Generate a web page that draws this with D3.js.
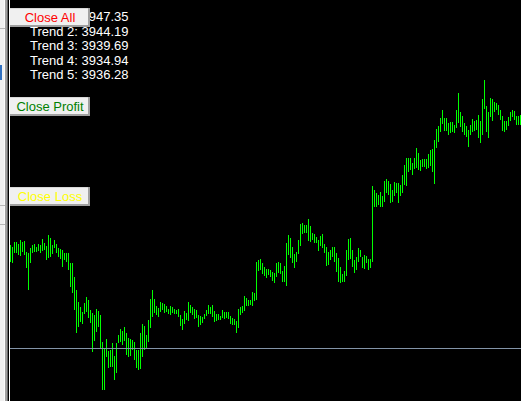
<!DOCTYPE html>
<html>
<head>
<meta charset="utf-8">
<script src="https://cdn.jsdelivr.net/npm/d3@7/dist/d3.min.js"></script>
<style>
  html, body { margin: 0; padding: 0; background: #000; }
  svg { display: block; }
</style>
</head>
<body>
<script>
// ---- data (price bars: high / low per bar, oldest first) ----
const high = [
3935.50,3935.33,3935.77,3935.83,3935.60,3936.00,3935.83,3935.93,3934.83,3934.67,
3935.17,3935.50,3935.60,3935.33,3935.60,3935.50,3936.07,3935.73,3935.40,3936.50,
3936.17,3935.50,3936.00,3935.60,3935.17,3935.07,3935.00,3934.73,3934.67,3934.67,
3933.67,3933.67,3932.27,3931.00,3929.83,3929.27,3928.83,3929.67,3930.27,3930.00,
3929.00,3928.67,3928.50,3929.07,3928.93,3928.50,3925.83,3925.17,3926.07,3924.93,
3925.00,3925.67,3924.40,3925.67,3926.50,3927.10,3926.90,3927.27,3926.67,3926.17,
3926.07,3926.00,3925.83,3925.00,3925.00,3926.67,3927.60,3927.40,3926.50,3928.00,
3930.07,3931.00,3930.13,3929.40,3929.17,3929.80,3929.73,3929.60,3929.40,3929.07,
3929.40,3929.27,3929.07,3929.00,3929.10,3928.50,3928.10,3928.90,3928.73,3929.83,
3929.50,3929.27,3929.07,3929.00,3928.50,3928.40,3928.33,3928.60,3929.00,3929.50,
3929.33,3929.50,3928.90,3928.57,3928.60,3928.40,3929.00,3928.80,3928.80,3928.80,
3928.40,3928.20,3928.10,3927.90,3929.10,3929.27,3929.40,3930.40,3930.17,3930.00,
3930.00,3930.77,3930.67,3933.83,3934.00,3934.10,3933.67,3933.27,3933.10,3933.10,
3933.00,3932.83,3932.73,3933.67,3933.83,3933.67,3932.90,3933.40,3935.73,3936.50,
3936.17,3935.33,3934.60,3934.83,3936.00,3937.60,3937.73,3937.50,3937.50,3938.10,
3937.40,3936.73,3936.60,3936.33,3936.00,3936.40,3936.60,3935.60,3935.33,3934.83,
3935.00,3935.27,3935.33,3934.67,3934.17,3933.33,3932.60,3932.93,3935.00,3936.07,
3936.17,3935.00,3934.00,3934.33,3935.17,3935.00,3934.27,3934.50,3934.40,3934.07,
3934.07,3941.40,3941.00,3940.67,3940.50,3940.77,3940.40,3941.90,3942.10,3941.90,
3941.60,3941.00,3941.80,3941.73,3941.67,3941.50,3942.50,3943.50,3944.23,3944.23,
3944.23,3943.73,3944.23,3945.17,3944.73,3944.00,3944.07,3944.10,3944.10,3944.60,
3945.00,3945.10,3946.00,3947.10,3947.43,3948.23,3949.00,3948.23,3948.23,3947.67,
3947.83,3947.77,3947.50,3949.00,3950.73,3948.83,3948.40,3947.73,3947.40,3947.00,
3947.50,3948.10,3947.90,3948.00,3948.50,3947.90,3950.07,3952.00,3949.40,3948.83,
3950.17,3950.07,3949.83,3949.67,3949.50,3949.00,3948.40,3947.90,3947.90,3948.27,
3948.83,3949.00,3948.90,3948.40,3948.40,3948.50
];
const low = [
3933.83,3933.73,3934.67,3934.73,3934.50,3934.43,3934.83,3934.50,3933.23,3931.00,
3933.67,3934.67,3934.83,3934.77,3934.93,3934.67,3934.93,3935.00,3934.00,3934.17,
3934.33,3934.57,3935.17,3934.67,3934.33,3934.07,3933.33,3934.00,3933.83,3933.00,
3931.33,3930.67,3929.00,3926.67,3927.27,3927.83,3927.60,3928.60,3928.83,3928.17,
3927.73,3924.83,3925.93,3926.83,3927.33,3925.17,3921.00,3921.00,3924.33,3923.17,
3923.33,3923.33,3922.00,3922.67,3925.67,3925.83,3925.50,3925.93,3924.50,3924.33,
3924.40,3925.00,3924.00,3923.17,3923.00,3923.10,3924.33,3925.00,3925.23,3925.83,
3927.17,3928.33,3928.67,3928.50,3928.27,3928.83,3929.00,3928.73,3928.83,3928.60,
3928.50,3928.67,3928.60,3928.60,3928.33,3927.40,3927.00,3927.60,3928.00,3927.93,
3928.67,3928.50,3928.10,3928.17,3927.33,3927.50,3927.73,3928.07,3928.40,3928.60,
3928.60,3928.33,3927.83,3927.93,3928.00,3928.00,3928.17,3928.07,3928.17,3928.10,
3927.60,3927.50,3927.50,3926.73,3927.23,3928.50,3928.67,3928.93,3929.40,3929.40,
3929.47,3929.40,3929.90,3930.00,3932.93,3933.00,3932.60,3932.40,3932.23,3932.50,
3932.27,3931.90,3931.67,3932.33,3932.73,3932.60,3931.83,3931.83,3931.40,3934.50,
3934.17,3933.73,3933.17,3933.83,3934.60,3935.40,3936.60,3936.67,3936.73,3935.93,
3935.83,3936.00,3935.73,3935.67,3934.93,3935.40,3935.17,3934.73,3933.40,3933.50,
3934.00,3934.27,3933.83,3932.83,3931.83,3931.73,3931.83,3931.83,3932.40,3934.00,
3934.07,3933.33,3932.73,3933.00,3933.83,3934.27,3933.17,3933.07,3933.67,3933.00,
3933.17,3933.83,3939.33,3939.33,3939.50,3939.33,3939.27,3939.83,3940.73,3940.50,
3939.73,3939.83,3940.40,3940.67,3939.67,3940.43,3940.67,3941.50,3941.40,3942.83,
3943.00,3942.50,3943.07,3943.17,3943.00,3942.90,3943.27,3943.33,3943.10,3943.23,
3943.40,3942.83,3941.60,3945.23,3945.83,3946.83,3947.60,3946.93,3946.93,3946.50,
3946.73,3946.83,3946.73,3947.17,3947.73,3947.33,3946.83,3946.50,3946.33,3945.33,
3946.50,3946.83,3946.90,3947.00,3946.23,3945.73,3946.50,3949.07,3946.83,3946.23,
3948.33,3947.93,3948.83,3949.00,3948.50,3948.00,3946.90,3946.83,3947.00,3947.40,
3947.93,3948.33,3948.00,3947.50,3947.50,3947.50
];
const levelPrice = 3925.2;
const trendLabels = ["Trend 1: 3947.35","Trend 2: 3944.19","Trend 3: 3939.69","Trend 4: 3934.94","Trend 5: 3936.28"];
const buttonLabels = ["Close All","Close Profit","Close Loss"];

// ---- drawing ----
const W = 521, H = 401;
const svg = d3.select("body").append("svg").attr("width", W).attr("height", H);

// chart background
svg.append("rect").attr("x",0).attr("y",0).attr("width",W).attr("height",H).attr("fill","#000");

const x = d3.scaleLinear().domain([0, high.length - 1]).range([10, 520]);
const y = d3.scaleLinear().domain([3919.9, 3960]).range([401, 0]);

// bars
svg.append("g").selectAll("rect").data(high).join("rect")
  .attr("x", (d,i) => Math.round(x(i)))
  .attr("y", d => y(d))
  .attr("width", 1)
  .attr("height", (d,i) => Math.max(1, y(low[i]) - y(d)))
  .attr("fill", "#00ff00")
  .attr("shape-rendering","crispEdges");

// horizontal level line
svg.append("line")
  .attr("x1", 10).attr("x2", W)
  .attr("y1", Math.round(y(levelPrice)) + 0.5).attr("y2", Math.round(y(levelPrice)) + 0.5)
  .attr("stroke", "#8394a8").attr("stroke-width", 1);

// left window frame
const frame = svg.append("g").attr("shape-rendering","crispEdges");
frame.append("rect").attr("x",0).attr("y",0).attr("width",5).attr("height",H).attr("fill","#f0f0f0");
frame.append("rect").attr("x",4).attr("y",0).attr("width",1).attr("height",H).attr("fill","#fcfcfc");
frame.append("rect").attr("x",5).attr("y",0).attr("width",2).attr("height",H).attr("fill","#a0a0a0");
frame.append("rect").attr("x",7).attr("y",0).attr("width",1).attr("height",H).attr("fill","#696969");
frame.append("rect").attr("x",8).attr("y",0).attr("width",1).attr("height",H).attr("fill","#000");
frame.append("rect").attr("x",9).attr("y",0).attr("width",1).attr("height",H).attr("fill","#ffffff");
[28, 205, 224].forEach(v => frame.append("rect").attr("x",0).attr("y",v).attr("width",5).attr("height",1).attr("fill","#b8b8b8"));
frame.append("rect").attr("x",0).attr("y",65).attr("width",2).attr("height",15).attr("fill","#3070c0");

// trend texts
svg.append("g").selectAll("text").data(trendLabels).join("text")
  .attr("x", 30)
  .attr("y", (d,i) => 21 + i * 14.5)
  .attr("fill", "#ffffff")
  .style("font-family", "Liberation Sans, Arial, sans-serif")
  .style("font-size", "13px")
  .text(d => d);

// buttons
const btnY = [8, 97, 187];
const btnColors = ["#ff0000", "#008000", "#ffff00"];
const btn = svg.append("g").selectAll("g").data(buttonLabels).join("g")
  .attr("transform", (d,i) => `translate(10,${btnY[i]})`);
btn.append("rect").attr("x",0).attr("y",0).attr("width",80).attr("height",19).attr("fill","#a0a0a0").attr("shape-rendering","crispEdges");
btn.append("rect").attr("x",0).attr("y",1).attr("width",78).attr("height",16).attr("fill","#f0f0f0").attr("shape-rendering","crispEdges");
btn.append("rect").attr("x",0).attr("y",0).attr("width",78).attr("height",1).attr("fill","#d8d8d8").attr("shape-rendering","crispEdges");
btn.append("text")
  .attr("x", 40).attr("y", 14)
  .attr("text-anchor", "middle")
  .attr("fill", (d,i) => btnColors[i])
  .style("font-family", "Liberation Sans, Arial, sans-serif")
  .style("font-size", "13px")
  .text(d => d);
</script>
</body>
</html>
